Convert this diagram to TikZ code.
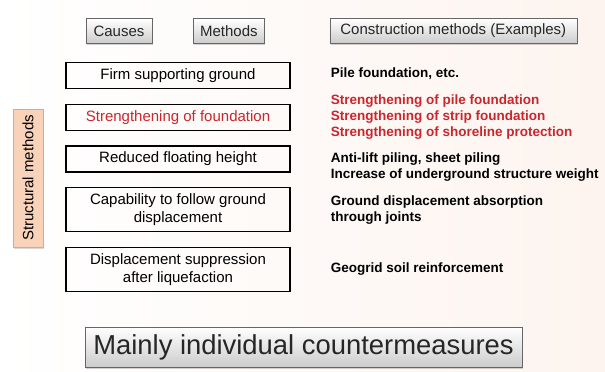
\documentclass[tikz,border=0pt]{standalone}
\usepackage{fontspec}
\setmainfont{Liberation Sans}
\usetikzlibrary{positioning, shadows}

\definecolor{alertred}{HTML}{C9262D}
\definecolor{peach}{HTML}{FDF4EF}
\definecolor{sidefill}{HTML}{F9D2BA}
\definecolor{sideline}{HTML}{E6A581}

\begin{document}
\begin{tikzpicture}[
x=1pt, y=-1pt,
node distance=14.5pt,
head/.style={
rectangle,
draw=black!60,
top color=white,
bottom color=black!20,
drop shadow={opacity=0.35, shadow xshift=1pt, shadow yshift=-1.5pt},
minimum height=25pt,
inner sep=0pt,
text=black!85,
font=\fontsize{15}{18}\selectfont
},
cause/.style={
rectangle,
draw=black,
line width=1.2pt,
minimum width=224pt,
minimum height=26pt,
inner xsep=4pt,
inner ysep=6pt,
align=center,
font=\fontsize{15}{18}\selectfont
},
example/.style={
inner sep=0pt,
align=left,
font=\bfseries\fontsize{13.5}{16}\selectfont
}
]

% background
\fill[left color=white, right color=peach] (0,0) rectangle (605,372);
\useasboundingbox (0,0) rectangle (605,372);

% column headings
\node (causes) [head, minimum width=66pt] at (119,31) {Causes};
\node (methods) [head, minimum width=71pt, right=41pt of causes] {Methods};
\node (constr) [head, minimum width=247pt, right=65pt of methods] {Construction methods (Examples)};

% causes
\node (firm) [cause] at (178,75.5) {Firm supporting ground};
\node (found) [cause, below=of firm, text=alertred] {Strengthening of foundation};
\node (float) [cause, below=of found] {Reduced floating height};
\node (follow) [cause, below=of float] {Capability to follow ground\\displacement};
\node (suppr) [cause, below=of follow] {Displacement suppression\\after liquefaction};

% examples
\node (expile) [example, right=40pt of firm, yshift=2pt] {Pile foundation, etc.};
\node (exfound) [example, right=40pt of found, text=alertred]
{Strengthening of pile foundation\\Strengthening of strip foundation\\Strengthening of shoreline protection};
\node (exfloat) [example, right=40pt of float, yshift=-8.5pt]
{Anti-lift piling, sheet piling\\Increase of underground structure weight};
\node (exfollow) [example, right=40pt of follow]
{Ground displacement absorption\\through joints};
\node (exsuppr) [example, right=40pt of suppr] {Geogrid soil reinforcement};

% side label
\node (side) [rectangle, rotate=90, draw=sideline, fill=sidefill,
drop shadow={opacity=0.3, shadow xshift=1pt, shadow yshift=-1.5pt},
minimum width=138pt, minimum height=30pt, inner sep=0pt,
font=\fontsize{15}{18}\selectfont] at (28,178) {Structural methods};

% summary
\node (summary) [head, minimum width=437pt, minimum height=40pt,
font=\fontsize{27.4}{30}\selectfont] at (303.5,347) {Mainly individual countermeasures};

\end{tikzpicture}
\end{document}
